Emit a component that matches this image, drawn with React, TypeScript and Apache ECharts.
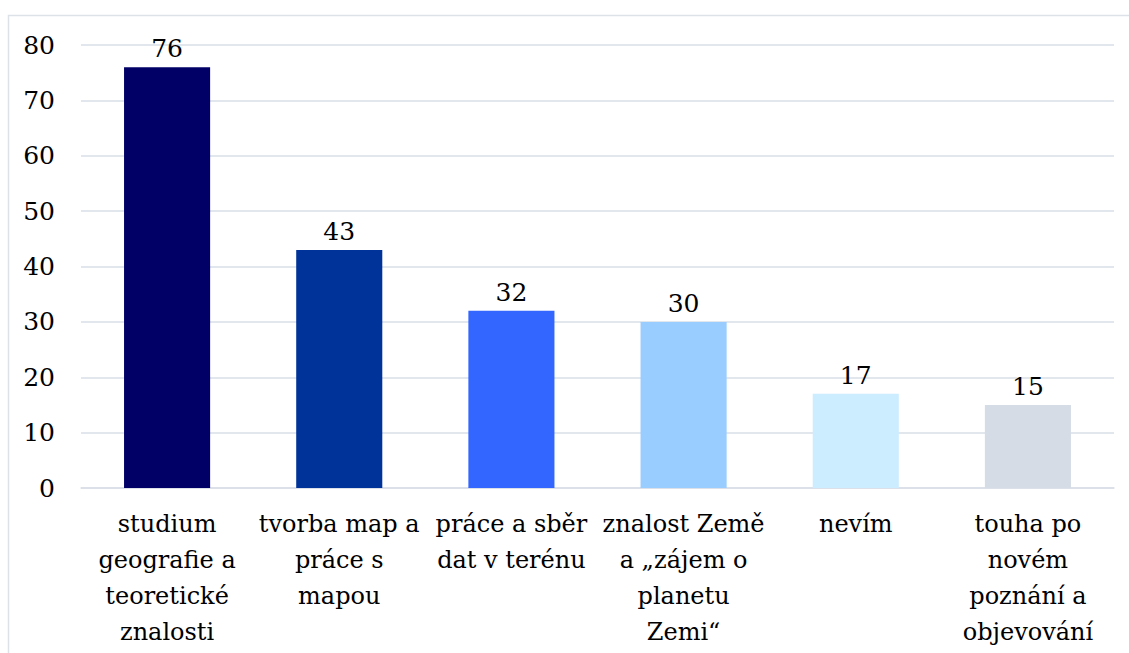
import React, { useEffect, useRef } from "react";
import * as echarts from "echarts";

const categories = [
  "studium\ngeografie a\nteoretické\nznalosti",
  "tvorba map a\npráce s\nmapou",
  "práce a sběr\ndat v terénu",
  "znalost Země\na „zájem o\nplanetu\nZemi“",
  "nevím",
  "touha po\nnovém\npoznání a\nobjevování",
];
const values = [76, 43, 32, 30, 17, 15];
const barColors = ["#000066", "#003399", "#3366FF", "#99CCFF", "#CCECFF", "#D6DCE5"];

const FONT = "DejaVu Serif";

export default function App() {
  const ref = useRef<HTMLDivElement>(null);
  useEffect(() => {
    document.body.style.margin = "0";
    const chart = echarts.init(ref.current!, undefined, { renderer: "svg" });
    chart.setOption({
      animation: false,
      backgroundColor: "#ffffff",
      textStyle: { fontFamily: FONT },
      graphic: [
        {
          type: "rect",
          shape: { x: 8.5, y: 15.5, width: 1130, height: 650 },
          style: { fill: "none", stroke: "#DDE1E8", lineWidth: 1.5 },
          silent: true,
        },
      ],
      grid: { left: 81, right: 15, top: 45, bottom: 165, containLabel: false },
      xAxis: {
        type: "category",
        data: categories,
        axisLine: { show: true, lineStyle: { color: "#D9DEE7", width: 1.5 } },
        axisTick: { show: false },
        axisLabel: {
          interval: 0,
          margin: 18,
          fontFamily: FONT,
          fontSize: 24,
          lineHeight: 36,
          color: "#000",
          align: "center",
        },
      },
      yAxis: {
        type: "value",
        min: 0,
        max: 80,
        interval: 10,
        axisLine: { show: false },
        axisTick: { show: false },
        splitLine: { lineStyle: { color: "#D9DEE7", width: 1.5 } },
        axisLabel: { margin: 26, fontFamily: FONT, fontSize: 25, color: "#000" },
      },
      series: [
        {
          type: "bar",
          barWidth: "50%",
          data: values.map((v, i) => ({ value: v, itemStyle: { color: barColors[i] } })),
          label: {
            show: true,
            position: "top",
            distance: 6,
            fontFamily: FONT,
            fontSize: 25,
            color: "#000",
          },
        },
      ],
    });
    return () => chart.dispose();
  }, []);
  return <div ref={ref} style={{ width: 1129, height: 653 }} />;
}
